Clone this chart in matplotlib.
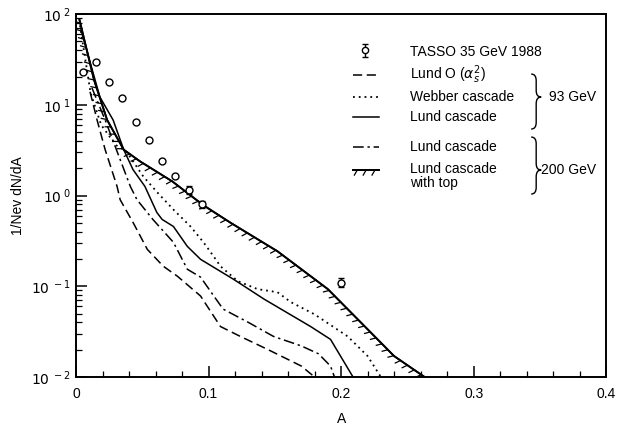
import numpy as np
import matplotlib; matplotlib.use("Agg")
import matplotlib.pyplot as plt
import matplotlib.patheffects as pe
from matplotlib.path import Path
from matplotlib.patches import PathPatch
from matplotlib.ticker import FixedLocator, LogLocator, NullFormatter

plt.rcParams["font.family"] = ["Liberation Sans", "DejaVu Sans"]

# ---- data ----
tasso_A = [0.005, 0.015, 0.025, 0.035, 0.045, 0.055, 0.065, 0.075, 0.085, 0.095, 0.2]
tasso_y = [23, 30, 17.9, 11.9, 6.5, 4.1, 2.4, 1.66, 1.16, 0.80, 0.11]
tasso_err = [0, 0, 0, 0, 0, 0, 0, 0, 0.12, 0.08, 0.012]

lundO_A = [0.0106, 0.0159, 0.022, 0.031, 0.0333, 0.0432, 0.0538, 0.0659, 0.0765, 0.094, 0.109, 0.124, 0.145, 0.170, 0.180]
lundO_y = [13.9, 6.8, 3.2, 1.26, 0.90, 0.50, 0.255, 0.166, 0.129, 0.078, 0.036, 0.028, 0.020, 0.0132, 0.01]

webber_A = [0.003, 0.011, 0.019, 0.030, 0.036, 0.0386, 0.0508, 0.0614, 0.0735, 0.0864, 0.0962, 0.1038, 0.109, 0.122,
            0.137, 0.152, 0.162, 0.180, 0.205, 0.220, 0.230]
webber_y = [75, 13.5, 6.0, 3.6, 3.2, 2.97, 1.62, 1.08, 0.70, 0.456, 0.305, 0.214, 0.166, 0.114,
            0.093, 0.086, 0.067, 0.049, 0.028, 0.017, 0.01]

lund93_A = [0.0038, 0.018, 0.028, 0.036, 0.043, 0.052, 0.061, 0.065, 0.0735, 0.084, 0.094, 0.119, 0.142, 0.177, 0.192, 0.209]
lund93_y = [67, 12.2, 6.8, 3.2, 1.93, 1.26, 0.65, 0.545, 0.456, 0.275, 0.198, 0.119, 0.072, 0.036, 0.026, 0.01]

lund200_A = [0.012, 0.022, 0.041, 0.046, 0.058, 0.0735, 0.084, 0.094, 0.104, 0.111, 0.130, 0.149, 0.170, 0.183, 0.192, 0.195]
lund200_y = [15.4, 6.8, 1.26, 0.90, 0.545, 0.305, 0.154, 0.126, 0.078, 0.056, 0.040, 0.028, 0.022, 0.018, 0.0132, 0.01]

top_A = [0.0025, 0.0136, 0.0235, 0.036, 0.0485, 0.0727, 0.0962, 0.1167, 0.152, 0.190, 0.240, 0.263]
top_y = [88, 18.8, 6.8, 3.2, 2.37, 1.43, 0.78, 0.50, 0.243, 0.093, 0.017, 0.01]

legend_rows = ["TASSO 35 GeV 1988", "Lund O ($\\alpha_s^2$)", "Webber cascade", "Lund cascade",
               "Lund cascade", "Lund cascade\nwith top"]

fig = plt.figure(figsize=(6.26, 4.26), dpi=100)
ax = fig.add_axes([0.1214, 0.115, 0.847, 0.852])

lw = 1.1
ax.plot(lundO_A, lundO_y, color="black", lw=lw, ls=(0, (6, 3)))
ax.plot(webber_A, webber_y, color="black", lw=1.3, ls=(0, (1, 2.2)))
ax.plot(lund93_A, lund93_y, color="black", lw=lw, ls="-")
ax.plot(lund200_A, lund200_y, color="black", lw=lw, ls=(0, (7, 2.5, 1.5, 2.5)))
tick_fx = [pe.withTickedStroke(angle=-120, length=0.7, spacing=6, linewidth=0.9), pe.Normal()]
ax.plot(top_A, top_y, color="black", lw=1.3, path_effects=tick_fx)

# TASSO points
ax.plot(tasso_A, tasso_y, "o", ms=5, mfc="white", mec="black", mew=1.0, ls="none", zorder=5)
eA = [a for a, e in zip(tasso_A, tasso_err) if e > 0]
eY = [y for y, e in zip(tasso_y, tasso_err) if e > 0]
eE = [e for e in tasso_err if e > 0]
ax.errorbar(eA, eY, yerr=eE, fmt="none", ecolor="black", elinewidth=1.0, capsize=2.5, zorder=4)

ax.set_yscale("log")
ax.set_xlim(0, 0.4)
ax.set_ylim(1e-2, 1e2)
ax.set_xticks([0, 0.1, 0.2, 0.3, 0.4])
ax.set_xticklabels(["0", "0.1", "0.2", "0.3", "0.4"])
ax.xaxis.set_minor_locator(FixedLocator(np.arange(0.02, 0.4, 0.02)))
ax.set_yticks([1e-2, 1e-1, 1e0, 1e1, 1e2])
ax.set_yticklabels(["$10^{\\ -2}$", "$10^{\\ -1}$", "$10^{\\ 0}$", "$10^{\\ 1}$", "$10^{\\ 2}$"])
ax.yaxis.set_minor_locator(LogLocator(base=10, subs=np.arange(2, 10)))
ax.yaxis.set_minor_formatter(NullFormatter())
ax.tick_params(which="major", direction="in", length=8, width=1.1, labelsize=10, top=False, right=False)
ax.tick_params(which="minor", direction="in", length=4, width=0.9, top=False, right=False)
ax.tick_params(axis="x", pad=7)
for s in ax.spines.values():
    s.set_linewidth(1.4)
ax.set_xlabel("A", fontsize=10, labelpad=8)
ax.set_ylabel("1/Nev dN/dA", fontsize=10, labelpad=4)

# ---- hand-made legend (axes fraction) ----
def fx(px): return (px - 76) / 530.0
def fy(py): return (377 - py) / 363.0

T = ax.transAxes
row_y = [52, 75, 97, 117, 147, 170]
x0, x1, xt = fx(353), fx(379), fx(410)
ax.errorbar([fx(365)], [fy(50)], yerr=[0.018], fmt="o", ms=4.5, mfc="white", mec="black",
            ecolor="black", elinewidth=1.0, capsize=2.5, transform=T, clip_on=False)
styles = [None, dict(ls=(0, (6, 3)), lw=lw), dict(ls=(0, (1, 2.2)), lw=1.3), dict(ls="-", lw=lw),
          dict(ls=(0, (7, 2.5, 1.5, 2.5)), lw=lw), dict(ls="-", lw=1.3, path_effects=tick_fx)]
for i, (lab, st) in enumerate(zip(legend_rows, styles)):
    if st is not None:
        ax.plot([x0, x1], [fy(row_y[i])] * 2, color="black", transform=T, **st)
    va = "top" if "\n" in lab else "center"
    yy = fy(row_y[i]) + (0.022 if "\n" in lab else 0)
    ax.text(xt, yy, lab, transform=T, fontsize=10, va=va, ha="left", linespacing=1.0)

def brace(xa, ytop, ybot, ytip, w):
    xm = xa + w * 0.5
    r = 0.018
    verts = [(xa, ytop), (xm, ytop), (xm, ytop - r),
             (xm, ytip + r), (xm, ytip), (xa + w, ytip),
             (xm, ytip), (xm, ytip - r),
             (xm, ybot + r), (xm, ybot), (xa, ybot)]
    codes = [Path.MOVETO, Path.CURVE3, Path.CURVE3, Path.LINETO, Path.CURVE3, Path.CURVE3,
             Path.CURVE3, Path.CURVE3, Path.LINETO, Path.CURVE3, Path.CURVE3]
    ax.add_patch(PathPatch(Path(verts, codes), fc="none", ec="black", lw=1.0, transform=T, clip_on=False))

brace(fx(531), fy(74), fy(129), fy(97), fx(541) - fx(531))
brace(fx(531), fy(137), fy(194), fy(170), fx(541) - fx(531))
ax.text(fx(549), fy(97), "93 GeV", transform=T, fontsize=10, va="center", ha="left")
ax.text(fx(541), fy(170), "200 GeV", transform=T, fontsize=10, va="center", ha="left")

fig.savefig("out.png", dpi=100)
